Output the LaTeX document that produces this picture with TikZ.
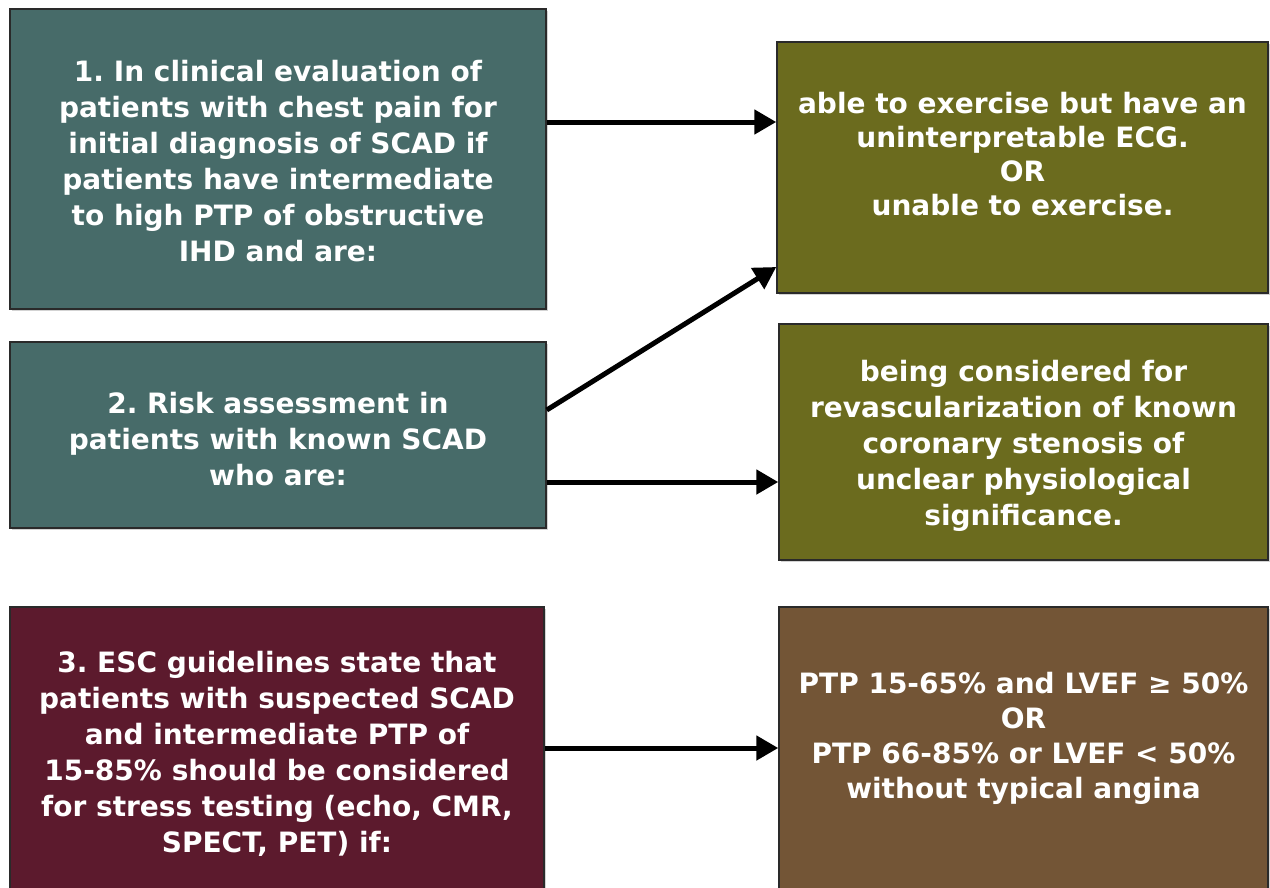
\documentclass[tikz,border=0pt]{standalone}
\usepackage{fontspec}
\setmainfont{DejaVu Sans}
\usetikzlibrary{arrows.meta,shadows,calc}
\definecolor{teal1}{HTML}{476B69}
\definecolor{olive1}{HTML}{6B6B1E}
\definecolor{maroon1}{HTML}{5C1A2D}
\definecolor{brown1}{HTML}{735536}
\definecolor{edge1}{HTML}{2A2A2A}
\frenchspacing
\tikzset{
  box/.style={draw=edge1, line width=1.5pt, inner sep=0pt,
    drop shadow={shadow xshift=2pt, shadow yshift=-2pt, opacity=0.35}},
  txt/.style={text=white, font=\fontsize{28}{36}\selectfont\bfseries, align=center},
  arr/.style={line width=5pt, -{Triangle[length=22pt,width=24pt]}},
}
\begin{document}
\begin{tikzpicture}[x=1pt,y=-1pt]
\useasboundingbox (0,0) rectangle (1270,887);
\clip (0,0) rectangle (1270,887);
% left boxes
\node[box, fill=teal1, minimum width=536pt, minimum height=300pt] (b1) at (278,159) {};
\node[box, fill=teal1, minimum width=536pt, minimum height=186pt] (b2) at (278,435) {};
\node[box, fill=maroon1, minimum width=534pt, minimum height=290pt] (b3) at (277,752) {};
% right boxes
\node[box, fill=olive1, minimum width=491pt, minimum height=251pt] (r1) at (1022.5,167.5) {};
\node[box, fill=olive1, minimum width=489pt, minimum height=236pt] (r2) at (1023.5,442) {};
\node[box, fill=brown1, minimum width=489pt, minimum height=290pt] (r3) at (1023.5,752) {};
% texts
\node[txt] (t1) at ([yshift=-2pt]b1.center) {1. In clinical evaluation of\\patients with chest pain for\\initial diagnosis of SCAD if\\patients have intermediate\\to high PTP of obstructive\\IHD and are:};
\node[txt] (t2) at ([yshift=-4pt]b2.center) {2. Risk assessment in\\patients with known SCAD\\who are:};
\node[txt] (t3) at ([yshift=-2pt]b3.center) {3. ESC guidelines state that\\patients with suspected SCAD\\and intermediate PTP of\\15-85\% should be considered\\for stress testing (echo, CMR,\\SPECT, PET) if:};
\node[txt, font=\fontsize{28}{34}\selectfont\bfseries] (u1) at ([yshift=13pt]r1.center) {able to exercise but have an\\uninterpretable ECG.\\OR\\unable to exercise.};
\node[txt] (u2) at ([yshift=-4pt]r2.center) {being considered for\\revascularization of known\\coronary stenosis of\\unclear physiological\\significance.};
\node[txt, font=\fontsize{28}{35}\selectfont\bfseries] (u3) at ([yshift=14pt]r3.center) {PTP 15-65\% and LVEF ≥ 50\%\\OR\\PTP 66-85\% or LVEF < 50\%\\without typical angina};
% arrows
\draw[arr] ([yshift=37pt]b1.east) -- ([yshift=45.5pt]r1.west);
\draw[arr] ([yshift=25pt]b2.east) -- ([yshift=-99.5pt]r1.west);
\draw[arr] ([yshift=-47pt]b2.east) -- ([yshift=-40pt]r2.west);
\draw[arr] ([yshift=4pt]b3.east) -- ([yshift=4pt]r3.west);
\end{tikzpicture}
\end{document}
